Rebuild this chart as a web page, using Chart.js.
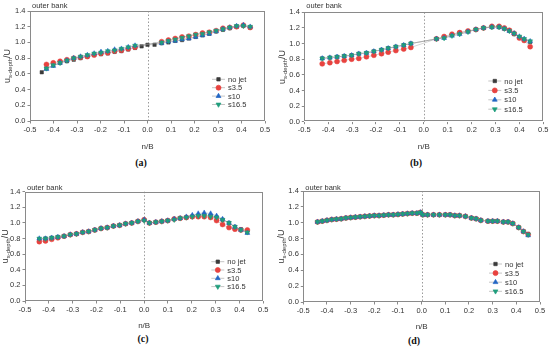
<!DOCTYPE html>
<html>
<head>
<meta charset="utf-8">
<script src="https://cdn.jsdelivr.net/npm/chart.js@4"></script>
<style>
  body { margin: 0; background: #fff; width: 550px; height: 351px; position: relative; overflow: hidden; }
  .panel { position: absolute; }
  .tag { position: absolute; font: bold 10px "Liberation Serif", serif; color: #111; transform: translateX(-50%); }
</style>
</head>
<body>
<div class="panel" style="left:0;top:0"><canvas id="chartA" width="275" height="152"></canvas></div>
<div class="panel" style="left:275px;top:0"><canvas id="chartB" width="275" height="152"></canvas></div>
<div class="panel" style="left:0;top:175px"><canvas id="chartC" width="275" height="156"></canvas></div>
<div class="panel" style="left:275px;top:175px"><canvas id="chartD" width="275" height="157"></canvas></div>
<div class="tag" style="left:141px;top:157px">(a)</div>
<div class="tag" style="left:416px;top:157px">(b)</div>
<div class="tag" style="left:143px;top:333px">(c)</div>
<div class="tag" style="left:414px;top:335px">(d)</div>
<script>
// series names and axis ticks
const seriesLabels = ['no jet', 's3.5', 's10', 's16.5'];
const xTickValues = [-0.5, -0.4, -0.3, -0.2, -0.1, 0.0, 0.1, 0.2, 0.3, 0.4, 0.5];
const yTickValues = [0.0, 0.2, 0.4, 0.6, 0.8, 1.0, 1.2, 1.4];

// (a)
const xA = [-0.45, -0.43, -0.401, -0.372, -0.343, -0.314, -0.285, -0.256, -0.227, -0.198, -0.169, -0.14, -0.111, -0.082, -0.053,
  -0.025, 0, 0.03,
  0.06, 0.089, 0.118, 0.147, 0.176, 0.205, 0.234, 0.263, 0.292, 0.321, 0.35, 0.379, 0.408, 0.437];
const noJetA = [0.62, 0.67, 0.71, 0.74, 0.76, 0.78, 0.80, 0.82, 0.84, 0.85, 0.86, 0.88, 0.89, 0.91, 0.93,
  0.95, 0.97, 0.97,
  0.99, 1.00, 1.02, 1.03, 1.05, 1.07, 1.09, 1.11, 1.14, 1.16, 1.18, 1.20, 1.21, 1.19];
const s35A = [null, 0.72, 0.74, 0.76, 0.78, 0.80, 0.81, 0.82, 0.84, 0.86, 0.87, 0.89, 0.90, 0.92, 0.94,
  null, null, null,
  1.01, 1.03, 1.05, 1.07, 1.08, 1.10, 1.12, 1.13, 1.15, 1.18, 1.19, 1.20, 1.22, 1.19];
const s10A = [null, 0.66, 0.70, 0.74, 0.77, 0.80, 0.82, 0.84, 0.86, 0.88, 0.89, 0.91, 0.92, 0.94, 0.96,
  null, null, null,
  0.99, 1.01, 1.02, 1.04, 1.05, 1.07, 1.09, 1.11, 1.14, 1.17, 1.19, 1.21, 1.22, 1.20];
const s165A = [null, 0.67, 0.71, 0.74, 0.77, 0.80, 0.82, 0.84, 0.86, 0.87, 0.89, 0.90, 0.92, 0.94, 0.96,
  null, null, null,
  1.00, 1.02, 1.04, 1.06, 1.08, 1.10, 1.11, 1.13, 1.15, 1.17, 1.19, 1.21, 1.21, 1.20];

// (b)
const xB = [-0.425, -0.393, -0.363, -0.333, -0.302, -0.272, -0.24, -0.209, -0.177, -0.149, -0.117, -0.084, -0.054,
  0.053, 0.085, 0.118, 0.15, 0.185, 0.218, 0.25, 0.285, 0.315, 0.337, 0.358, 0.378, 0.40, 0.42, 0.445];
const noJetB = [0.81, 0.82, 0.83, 0.84, 0.85, 0.87, 0.88, 0.90, 0.92, 0.94, 0.96, 0.98, 1.00,
  1.06, 1.08, 1.11, 1.14, 1.16, 1.18, 1.20, 1.21, 1.21, 1.19, 1.17, 1.12, 1.08, 1.05, 1.02];
const s35B = [0.74, 0.755, 0.77, 0.785, 0.80, 0.81, 0.83, 0.85, 0.87, 0.89, 0.91, 0.93, 0.95,
  1.06, 1.09, 1.12, 1.14, 1.16, 1.18, 1.20, 1.22, 1.22, 1.20, 1.17, 1.13, 1.07, 1.04, 0.96];
const s10B = [0.81, 0.82, 0.83, 0.84, 0.85, 0.87, 0.88, 0.90, 0.92, 0.94, 0.96, 0.98, 1.00,
  1.06, 1.07, 1.10, 1.12, 1.15, 1.18, 1.20, 1.21, 1.21, 1.19, 1.16, 1.13, 1.09, 1.06, 1.03];
const s165B = [0.81, 0.82, 0.83, 0.84, 0.85, 0.87, 0.88, 0.90, 0.92, 0.94, 0.96, 0.98, 1.00,
  1.06, 1.07, 1.10, 1.12, 1.15, 1.18, 1.20, 1.21, 1.21, 1.19, 1.16, 1.13, 1.09, 1.06, 1.03];

// (c)
const xC = [-0.44, -0.414, -0.388, -0.362, -0.336, -0.31, -0.284, -0.258, -0.233, -0.207, -0.181, -0.155, -0.129, -0.103, -0.078, -0.052, -0.026, 0.0,
  0.022, 0.049, 0.074, 0.099, 0.126, 0.151, 0.177, 0.202, 0.227, 0.252, 0.279, 0.304, 0.329, 0.356, 0.381, 0.406, 0.433];
const noJetC = [0.79, 0.80, 0.81, 0.82, 0.83, 0.85, 0.86, 0.88, 0.89, 0.91, 0.93, 0.94, 0.96, 0.97, 0.99, 1.00, 1.02, 1.04,
  1.00, 1.01, 1.02, 1.03, 1.05, 1.06, 1.07, 1.08, 1.09, 1.10, 1.09, 1.07, 1.04, 1.00, 0.95, 0.92, 0.88];
const s35C = [0.76, 0.77, 0.79, 0.81, 0.83, 0.85, 0.86, 0.88, 0.89, 0.91, 0.93, 0.94, 0.96, 0.97, 0.99, 1.00, 1.02, 1.04,
  1.00, 1.01, 1.02, 1.03, 1.05, 1.06, 1.07, 1.08, 1.08, 1.08, 1.07, 1.03, 0.98, 0.94, 0.92, 0.91, 0.91];
const s10C = [0.80, 0.80, 0.81, 0.82, 0.83, 0.85, 0.86, 0.88, 0.89, 0.91, 0.93, 0.94, 0.96, 0.97, 0.99, 1.00, 1.02, 1.04,
  1.00, 1.01, 1.02, 1.03, 1.05, 1.06, 1.08, 1.10, 1.12, 1.13, 1.12, 1.09, 1.05, 1.00, 0.95, 0.91, 0.87];
const s165C = [0.80, 0.80, 0.81, 0.82, 0.83, 0.85, 0.86, 0.88, 0.89, 0.91, 0.93, 0.94, 0.96, 0.97, 0.99, 1.00, 1.02, 1.03,
  1.00, 1.01, 1.02, 1.03, 1.04, 1.06, 1.07, 1.08, 1.09, 1.09, 1.08, 1.07, 1.04, 1.00, 0.95, 0.91, 0.88];

// (d)
const xD = [-0.44, -0.42, -0.40, -0.38, -0.36, -0.34, -0.32, -0.30, -0.28, -0.26, -0.24, -0.22, -0.20, -0.18, -0.16, -0.14, -0.12, -0.10, -0.08, -0.06, -0.04, -0.02,
  -0.005, 0.005,
  0.025, 0.05, 0.075, 0.10, 0.12, 0.14, 0.16, 0.185, 0.21, 0.23, 0.25, 0.28, 0.30, 0.32, 0.345, 0.365, 0.385, 0.41, 0.43, 0.45];
const noJetD = [1.01, 1.02, 1.03, 1.04, 1.045, 1.05, 1.06, 1.065, 1.07, 1.075, 1.08, 1.085, 1.09, 1.09, 1.095, 1.10, 1.10, 1.105, 1.11, 1.115, 1.12, 1.12,
  1.13, 1.10,
  1.10, 1.10, 1.10, 1.10, 1.10, 1.09, 1.09, 1.08, 1.06, 1.05, 1.03, 1.02, 1.02, 1.02, 1.01, 1.01, 0.99, 0.94, 0.89, 0.86];
const s35D = [1.01, 1.02, 1.03, 1.04, 1.045, 1.05, 1.06, 1.065, 1.07, 1.075, 1.08, 1.085, 1.09, 1.09, 1.095, 1.10, 1.10, 1.105, 1.11, 1.115, 1.12, 1.12,
  1.13, 1.10,
  1.10, 1.10, 1.10, 1.10, 1.10, 1.09, 1.09, 1.08, 1.06, 1.05, 1.03, 1.02, 1.02, 1.02, 1.01, 1.01, 0.99, 0.94, 0.89, 0.85];
const s10D = [1.01, 1.02, 1.03, 1.04, 1.045, 1.05, 1.06, 1.065, 1.07, 1.075, 1.08, 1.085, 1.09, 1.09, 1.095, 1.10, 1.10, 1.105, 1.11, 1.115, 1.12, 1.12,
  1.13, 1.10,
  1.10, 1.10, 1.10, 1.10, 1.10, 1.09, 1.09, 1.08, 1.06, 1.05, 1.03, 1.02, 1.02, 1.02, 1.01, 1.01, 0.99, 0.94, 0.89, 0.84];
const s165D = [1.01, 1.02, 1.03, 1.04, 1.045, 1.05, 1.06, 1.065, 1.07, 1.075, 1.08, 1.085, 1.09, 1.09, 1.095, 1.10, 1.10, 1.105, 1.11, 1.115, 1.12, 1.12,
  1.13, 1.10,
  1.10, 1.10, 1.10, 1.10, 1.10, 1.09, 1.09, 1.08, 1.06, 1.05, 1.03, 1.02, 1.02, 1.02, 1.01, 1.01, 0.99, 0.94, 0.89, 0.85];

const colors = ['#3a3a3a', '#e8423f', '#2266c4', '#1f9e7c'];
const pointStyles = ['rect', 'circle', 'triangle', 'triangle'];
const rotations = [0, 0, 0, 180];
const radii = [2.4, 2.5, 2.8, 2.8];
const textColor = '#333';
const fontFamily = '"Liberation Sans", Arial, sans-serif';

// frame, zero line, legend, "outer bank" and y title
const decor = {
  id: 'decor',
  beforeDatasetsDraw(chart, args, o) {
    const { ctx, chartArea: a, scales: { x } } = chart;
    ctx.save();
    const x0 = Math.round(x.getPixelForValue(0)) + 0.5;
    ctx.strokeStyle = '#9a9a9a';
    ctx.lineWidth = 1;
    ctx.setLineDash([1.5, 2]);
    ctx.beginPath(); ctx.moveTo(x0, a.top); ctx.lineTo(x0, a.bottom); ctx.stroke();
    ctx.setLineDash([]);
    ctx.strokeStyle = '#8a8a8a';
    ctx.strokeRect(Math.round(a.left) + 0.5, Math.round(a.top) + 0.5, Math.round(a.width) - 1, Math.round(a.height) - 1);
    ctx.restore();
  },
  afterDraw(chart, args, o) {
    const { ctx, chartArea: a } = chart;
    ctx.save();
    // outer bank
    ctx.fillStyle = textColor;
    ctx.font = '7.5px ' + fontFamily;
    ctx.textBaseline = 'middle';
    ctx.textAlign = 'left';
    ctx.fillText('outer bank', a.left + 2, a.top + o.bankDy);

    // legend
    chart.data.datasets.forEach((ds, i) => {
      const y = a.bottom + o.legTop + i * o.legGap;
      const lx = a.right + o.legX;
      ctx.strokeStyle = 'rgba(150,150,150,0.8)';
      ctx.lineWidth = 0.7;
      ctx.beginPath(); ctx.moveTo(lx, y); ctx.lineTo(lx + 13, y); ctx.stroke();
      ctx.fillStyle = ds.pointBackgroundColor;
      ctx.strokeStyle = ds.pointBorderColor;
      Chart.helpers.drawPoint(ctx, { pointStyle: ds.pointStyle, rotation: ds.pointRotation, radius: ds.pointRadius, borderWidth: 0.5 }, lx + 6.5, y);
      ctx.fillStyle = textColor;
      ctx.font = '7.5px ' + fontFamily;
      ctx.fillText(ds.label, lx + 16, y + 0.5);
    });

    // y title with subscript
    const cy = (a.top + a.bottom) / 2;
    ctx.translate(o.titleX, cy);
    ctx.rotate(-Math.PI / 2);
    ctx.textBaseline = 'alphabetic';
    const big = '9px ' + fontFamily, small = '6px ' + fontFamily;
    ctx.font = big; const w1 = ctx.measureText('u').width, w3 = ctx.measureText('/U').width;
    ctx.font = small; const w2 = ctx.measureText('s-depth').width;
    let px = -(w1 + w2 + w3) / 2;
    ctx.fillStyle = textColor;
    ctx.font = big; ctx.fillText('u', px, 3); px += w1;
    ctx.font = small; ctx.fillText('s-depth', px, 5); px += w2;
    ctx.font = big; ctx.fillText('/U', px, 3);
    ctx.restore();
  }
};

function makePanel(id, xs, series, lay) {
  const datasets = series.map((ys, i) => ({
    label: seriesLabels[i],
    data: xs.map((x, k) => ({ x: x, y: ys[k] })),
    showLine: true,
    spanGaps: true,
    borderColor: 'rgba(140,140,140,0.6)',
    borderWidth: 0.6,
    pointStyle: pointStyles[i],
    pointRotation: rotations[i],
    pointRadius: radii[i],
    pointBackgroundColor: colors[i],
    pointBorderColor: colors[i],
    pointBorderWidth: 0.5,
    order: 3 - i
  }));
  new Chart(document.getElementById(id), {
    type: 'line',
    data: { datasets },
    options: {
      responsive: false,
      animation: false,
      events: [],
      layout: { padding: { top: lay.top, right: lay.right, left: 0, bottom: 0 } },
      plugins: {
        legend: { display: false },
        tooltip: { enabled: false },
        decor: lay
      },
      scales: {
        x: {
          type: 'linear', min: -0.5, max: 0.5,
          afterBuildTicks: s => { s.ticks = xTickValues.map(v => ({ value: v })); },
          afterFit: s => { s.height = lay.xh; },
          grid: { display: true, drawOnChartArea: false, drawTicks: true, tickLength: 2.5, color: '#8a8a8a' },
          border: { display: false },
          ticks: { color: textColor, font: { size: 7.5, family: fontFamily }, padding: 1.5, maxRotation: 0,
            callback: v => v.toFixed(1) },
          title: { display: true, text: 'n/B', color: textColor, font: { size: 8, family: fontFamily }, padding: { top: 0, bottom: 0 } }
        },
        y: {
          type: 'linear', min: 0, max: 1.4,
          afterBuildTicks: s => { s.ticks = yTickValues.map(v => ({ value: v })); },
          afterFit: s => { s.width = lay.yw; },
          grid: { display: true, drawOnChartArea: false, drawTicks: true, tickLength: 2.5, color: '#8a8a8a' },
          border: { display: false },
          ticks: { color: textColor, font: { size: 7.5, family: fontFamily }, padding: 2,
            callback: v => v.toFixed(1) }
        }
      }
    },
    plugins: [decor]
  });
}

makePanel('chartA', xA, [noJetA, s35A, s10A, s165A],
  { top: 11, right: 10, yw: 30, xh: 31, bankDy: -5, legTop: -41.7, legGap: 8.4, legX: -53, titleX: 7 });
makePanel('chartB', xB, [noJetB, s35B, s10B, s165B],
  { top: 12.3, right: 6.7, yw: 29.3, xh: 30.3, bankDy: -6, legTop: -40.7, legGap: 9.4, legX: -55, titleX: 7 });
makePanel('chartC', xC, [noJetC, s35C, s10C, s165C],
  { top: 16.7, right: 11.7, yw: 25, xh: 30, bankDy: -4, legTop: -39.3, legGap: 8.3, legX: -52, titleX: 5 });
makePanel('chartD', xD, [noJetD, s35D, s10D, s165D],
  { top: 16, right: 10, yw: 28.3, xh: 30, bankDy: -3, legTop: -38, legGap: 9.1, legX: -51, titleX: 6 });
</script>
</body>
</html>
